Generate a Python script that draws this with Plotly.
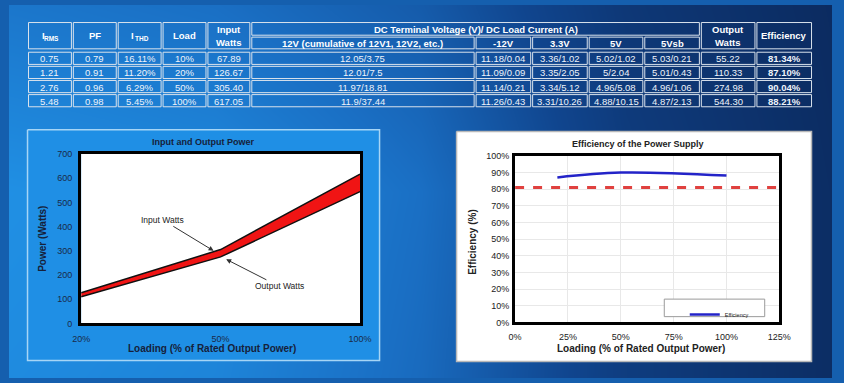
import plotly.graph_objects as go

W, H = 844, 383


def fx(p):
    return p / W


def fy(p):
    return 1 - p / H


FONT = "Liberation Sans, Arial, sans-serif"

# ---------------- table data ----------------
header_left = [("I", "RMS"), ("PF", ""), ("I", "THD"), ("Load", ""), ("Input", "Watts")]
dc_group_label = "DC Terminal Voltage (V)/ DC Load Current (A)"
dc_sub_labels = ["12V (cumulative of 12V1, 12V2, etc.)", "-12V", "3.3V", "5V", "5Vsb"]
header_right = [("Output", "Watts"), ("Efficiency", "")]

irms = ["0.75", "1.21", "2.76", "5.48"]
pf = ["0.79", "0.91", "0.96", "0.98"]
ithd = ["16.11%", "11.20%", "6.29%", "5.45%"]
load = ["10%", "20%", "50%", "100%"]
input_watts = ["67.89", "126.67", "305.40", "617.05"]
v12 = ["12.05/3.75", "12.01/7.5", "11.97/18.81", "11.9/37.44"]
vneg12 = ["11.18/0.04", "11.09/0.09", "11.14/0.21", "11.26/0.43"]
v33 = ["3.36/1.02", "3.35/2.05", "3.34/5.12", "3.31/10.26"]
v5 = ["5.02/1.02", "5/2.04", "4.96/5.08", "4.88/10.15"]
v5sb = ["5.03/0.21", "5.01/0.43", "4.96/1.06", "4.87/2.13"]
output_watts = ["55.22", "110.33", "274.98", "544.30"]
efficiency = ["81.34%", "87.10%", "90.04%", "88.21%"]

table_columns = [irms, pf, ithd, load, input_watts, v12, vneg12, v33, v5, v5sb,
                 output_watts, efficiency]

# ---------------- chart data ----------------
load_points = ["20%", "50%", "100%"]
input_power = [126.67, 305.40, 617.05]
output_power = [110.33, 274.98, 544.30]

eff_load = [20, 50, 100]
eff_values = [87.10, 90.04, 88.21]
eff_threshold = 81

# ---------------- background gradient (decoration) ----------------
bg_x = [-0.1, 0.25, 0.5, 0.75, 1.1]
bg_y = [-0.2, 0.5, 1.2]
bg_z = [[0.08, 0.15, 0.35, 0.70, 0.95],
        [0.03, 0.10, 0.30, 0.70, 0.95],
        [0.30, 0.38, 0.50, 0.78, 0.97]]
bg_scale = [[0, "#2196ea"], [0.3, "#1a6fc4"], [0.6, "#10458e"], [1, "#0a2352"]]

# ---------------- layout geometry (pixels) ----------------
col_edges = [19, 65, 111, 157, 203, 248, 478, 536, 594, 651, 709, 766, 824]
head_y0, head_mid, head_y1 = 17, 32, 46
row_edges = [47.5, 62, 76.5, 91, 105.5]

L_PANEL = (19, 128, 380, 365)
R_PANEL = (459, 130, 823, 366)
L_PLOT = (74, 153, 360, 327)
R_PLOT = (519, 155, 790, 326)

fig = go.Figure()

# background
fig.add_trace(go.Heatmap(x=bg_x, y=bg_y, z=bg_z, colorscale=bg_scale, zmin=0, zmax=1,
                         zsmooth="best", showscale=False, hoverinfo="skip",
                         xaxis="x", yaxis="y"))


def panel(box, fill, line, width=1.5):
    x0, y0, x1, y1 = box
    fig.add_trace(go.Scatter(x=[fx(x0), fx(x1), fx(x1), fx(x0), fx(x0)],
                             y=[fy(y0), fy(y0), fy(y1), fy(y1), fy(y0)],
                             mode="lines", fill="toself", fillcolor=fill,
                             line=dict(color=line, width=width), hoverinfo="skip",
                             showlegend=False, xaxis="x", yaxis="y"))


panel(L_PANEL, "#1f8fe5", "#a6d5f6")
panel(R_PANEL, "#ffffff", "#b8b8b8")
panel(L_PLOT, "#ffffff", "#ffffff", 0)
panel(R_PLOT, "#ffffff", "#ffffff", 0)

# left chart: input / output power band
fig.add_trace(go.Scatter(x=load_points, y=output_power, mode="lines", name="Output Watts",
                         line=dict(color="#111111", width=1.5), showlegend=False,
                         xaxis="x2", yaxis="y2", hoverinfo="skip"))
fig.add_trace(go.Scatter(x=load_points, y=input_power, mode="lines", name="Input Watts",
                         line=dict(color="#111111", width=1.5), fill="tonexty",
                         fillcolor="#f01414", showlegend=False,
                         xaxis="x2", yaxis="y2", hoverinfo="skip"))

# right chart: efficiency
fig.add_trace(go.Scatter(x=[0, 125], y=[eff_threshold, eff_threshold], mode="lines",
                         line=dict(color="#e0413f", width=3, dash="dash"),
                         showlegend=False, xaxis="x3", yaxis="y3", hoverinfo="skip",
                         cliponaxis=False))
fig.add_trace(go.Scatter(x=eff_load, y=eff_values, mode="lines", name="Efficiency",
                         line=dict(color="#2323c8", width=2.5, shape="spline"),
                         showlegend=True, xaxis="x3", yaxis="y3", hoverinfo="skip"))

shapes = []
annotations = []


def cell(x0, x1, y0, y1):
    shapes.append(dict(type="rect", xref="paper", yref="paper", layer="above",
                       x0=fx(x0 + 1), x1=fx(x1 - 1), y0=fy(y1 - 1), y1=fy(y0 + 1),
                       line=dict(color="#d9e2ec", width=1), fillcolor="rgba(0,0,0,0)"))


def text(x, y, s, size=9, color="#ffffff", bold=False, **kw):
    annotations.append(dict(xref="paper", yref="paper", x=fx(x), y=fy(y),
                            text=f"<b>{s}</b>" if bold else s, showarrow=False,
                            font=dict(family=FONT, size=size, color=color),
                            xanchor="center", yanchor="middle", **kw))


def header_text(c0, c1, pair, sub):
    cx, cy = (c0 + c1) / 2, (head_y0 + head_y1) / 2
    main, extra = pair
    if not extra:
        text(cx, cy, main, size=9.5, bold=True)
    elif sub:
        text(cx - 7, cy, main, size=9.5, bold=True)
        text(cx + 2, cy + 2.5, extra, size=6.5, bold=True)
    else:
        text(cx, cy - 6.5, main, size=9.5, bold=True)
        text(cx, cy + 6.5, extra, size=9.5, bold=True)


# header cells
for i, pair in enumerate(header_left):
    cell(col_edges[i], col_edges[i + 1], head_y0, head_y1)
    header_text(col_edges[i], col_edges[i + 1], pair, sub=(pair[0] == "I"))
cell(col_edges[5], col_edges[10], head_y0, head_mid)
text((col_edges[5] + col_edges[10]) / 2, (head_y0 + head_mid) / 2 + 0.5, dc_group_label, size=9.5, bold=True)
for j, lab in enumerate(dc_sub_labels):
    c0, c1 = col_edges[5 + j], col_edges[6 + j]
    cell(c0, c1, head_mid, head_y1)
    text((c0 + c1) / 2, (head_mid + head_y1) / 2 + 0.5, lab, size=9.5, bold=True)
for k, pair in enumerate(header_right):
    c0, c1 = col_edges[10 + k], col_edges[11 + k]
    cell(c0, c1, head_y0, head_y1)
    header_text(c0, c1, pair, sub=False)

# data cells
n_cols = len(table_columns)
for r in range(len(row_edges) - 1):
    r0, r1 = row_edges[r], row_edges[r + 1]
    for c in range(n_cols):
        c0, c1 = col_edges[c], col_edges[c + 1]
        cell(c0, c1, r0, r1)
        text((c0 + c1) / 2, (r0 + r1) / 2 + 0.5, table_columns[c][r], size=9.5,
             color="#eef3fa", bold=(c == n_cols - 1))

# legend box (decoration behind legend)
shapes.append(dict(type="rect", xref="paper", yref="paper", layer="above",
                   x0=fx(672), x1=fx(775), y0=fy(320), y1=fy(302),
                   line=dict(color="#9a9a9a", width=1), fillcolor="#ffffff"))

# chart titles and axis titles
text(199, 141, "Input and Output Power", size=9, color="#16213a", bold=True)
text(208, 353, "Loading (% of Rated Output Power)", size=10, color="#16213a", bold=True)
text(35, 240, "Power (Watts)", size=10, color="#16213a", bold=True, textangle=-90)
text(645, 143, "Efficiency of the Power Supply", size=9, color="#222222", bold=True)
text(648, 353, "Loading (% of Rated Output Power)", size=10, color="#222222", bold=True)
text(475, 243, "Efficiency (%)", size=10, color="#222222", bold=True, textangle=-90)

# arrows on left chart
annotations.append(dict(xref="x2", yref="y2", x=0.95, y=300, ax=-51, ay=-31,
                        text="Input Watts", showarrow=True, arrowhead=2, arrowsize=1,
                        arrowwidth=1, arrowcolor="#333333",
                        font=dict(family=FONT, size=8.5, color="#222222")))
annotations.append(dict(xref="x2", yref="y2", x=1.04, y=265, ax=53, ay=27,
                        text="Output Watts", showarrow=True, arrowhead=2, arrowsize=1,
                        arrowwidth=1, arrowcolor="#333333",
                        font=dict(family=FONT, size=8.5, color="#222222")))

hidden = dict(domain=[0, 1], range=[0, 1], visible=False, fixedrange=True)


def box_axis(ticklen):
    return dict(showline=True, linecolor="#000000", linewidth=3, mirror=True,
                zeroline=False, fixedrange=True, ticks="outside", ticklen=ticklen,
                tickcolor="rgba(0,0,0,0)")


fig.update_layout(
    width=W, height=H,
    margin=dict(l=0, r=0, t=0, b=0),
    paper_bgcolor="#155fae",
    plot_bgcolor="rgba(0,0,0,0)",
    font=dict(family=FONT, size=9, color="#222222"),
    xaxis=hidden,
    yaxis=dict(hidden),
    xaxis2=dict(domain=[fx(L_PLOT[0]), fx(L_PLOT[2])], anchor="y2", type="category",
                range=[0, 2], showgrid=False,
                tickfont=dict(family=FONT, size=9, color="#1a2a48"), **box_axis(5)),
    yaxis2=dict(domain=[fy(L_PLOT[3]), fy(L_PLOT[1])], anchor="x2", range=[0, 700],
                dtick=100, showgrid=False,
                tickfont=dict(family=FONT, size=9, color="#1a2a48"), **box_axis(4)),
    xaxis3=dict(domain=[fx(R_PLOT[0]), fx(R_PLOT[2])], anchor="y3", range=[0, 125],
                dtick=25, ticksuffix="%", showgrid=True, gridcolor="#e8e8e8", gridwidth=1,
                tickfont=dict(family=FONT, size=9, color="#222222"), **box_axis(4)),
    yaxis3=dict(domain=[fy(R_PLOT[3]), fy(R_PLOT[1])], anchor="x3", range=[0, 100],
                dtick=10, ticksuffix="%", showgrid=True, gridcolor="#e8e8e8", gridwidth=1,
                tickfont=dict(family=FONT, size=9, color="#222222"), **box_axis(1)),
    showlegend=True,
    legend=dict(x=fx(693), y=fy(303), xanchor="left", yanchor="top",
                bgcolor="rgba(0,0,0,0)", borderwidth=0,
                font=dict(family=FONT, size=5.5, color="#222222"),
                itemwidth=30, tracegroupgap=0),
    shapes=shapes,
    annotations=annotations,
    hovermode=False,
)

fig.write_html("out.html", config={"displayModeBar": False, "staticPlot": True},
               post_script="document.body.style.margin='0';document.body.style.overflow='hidden';")
